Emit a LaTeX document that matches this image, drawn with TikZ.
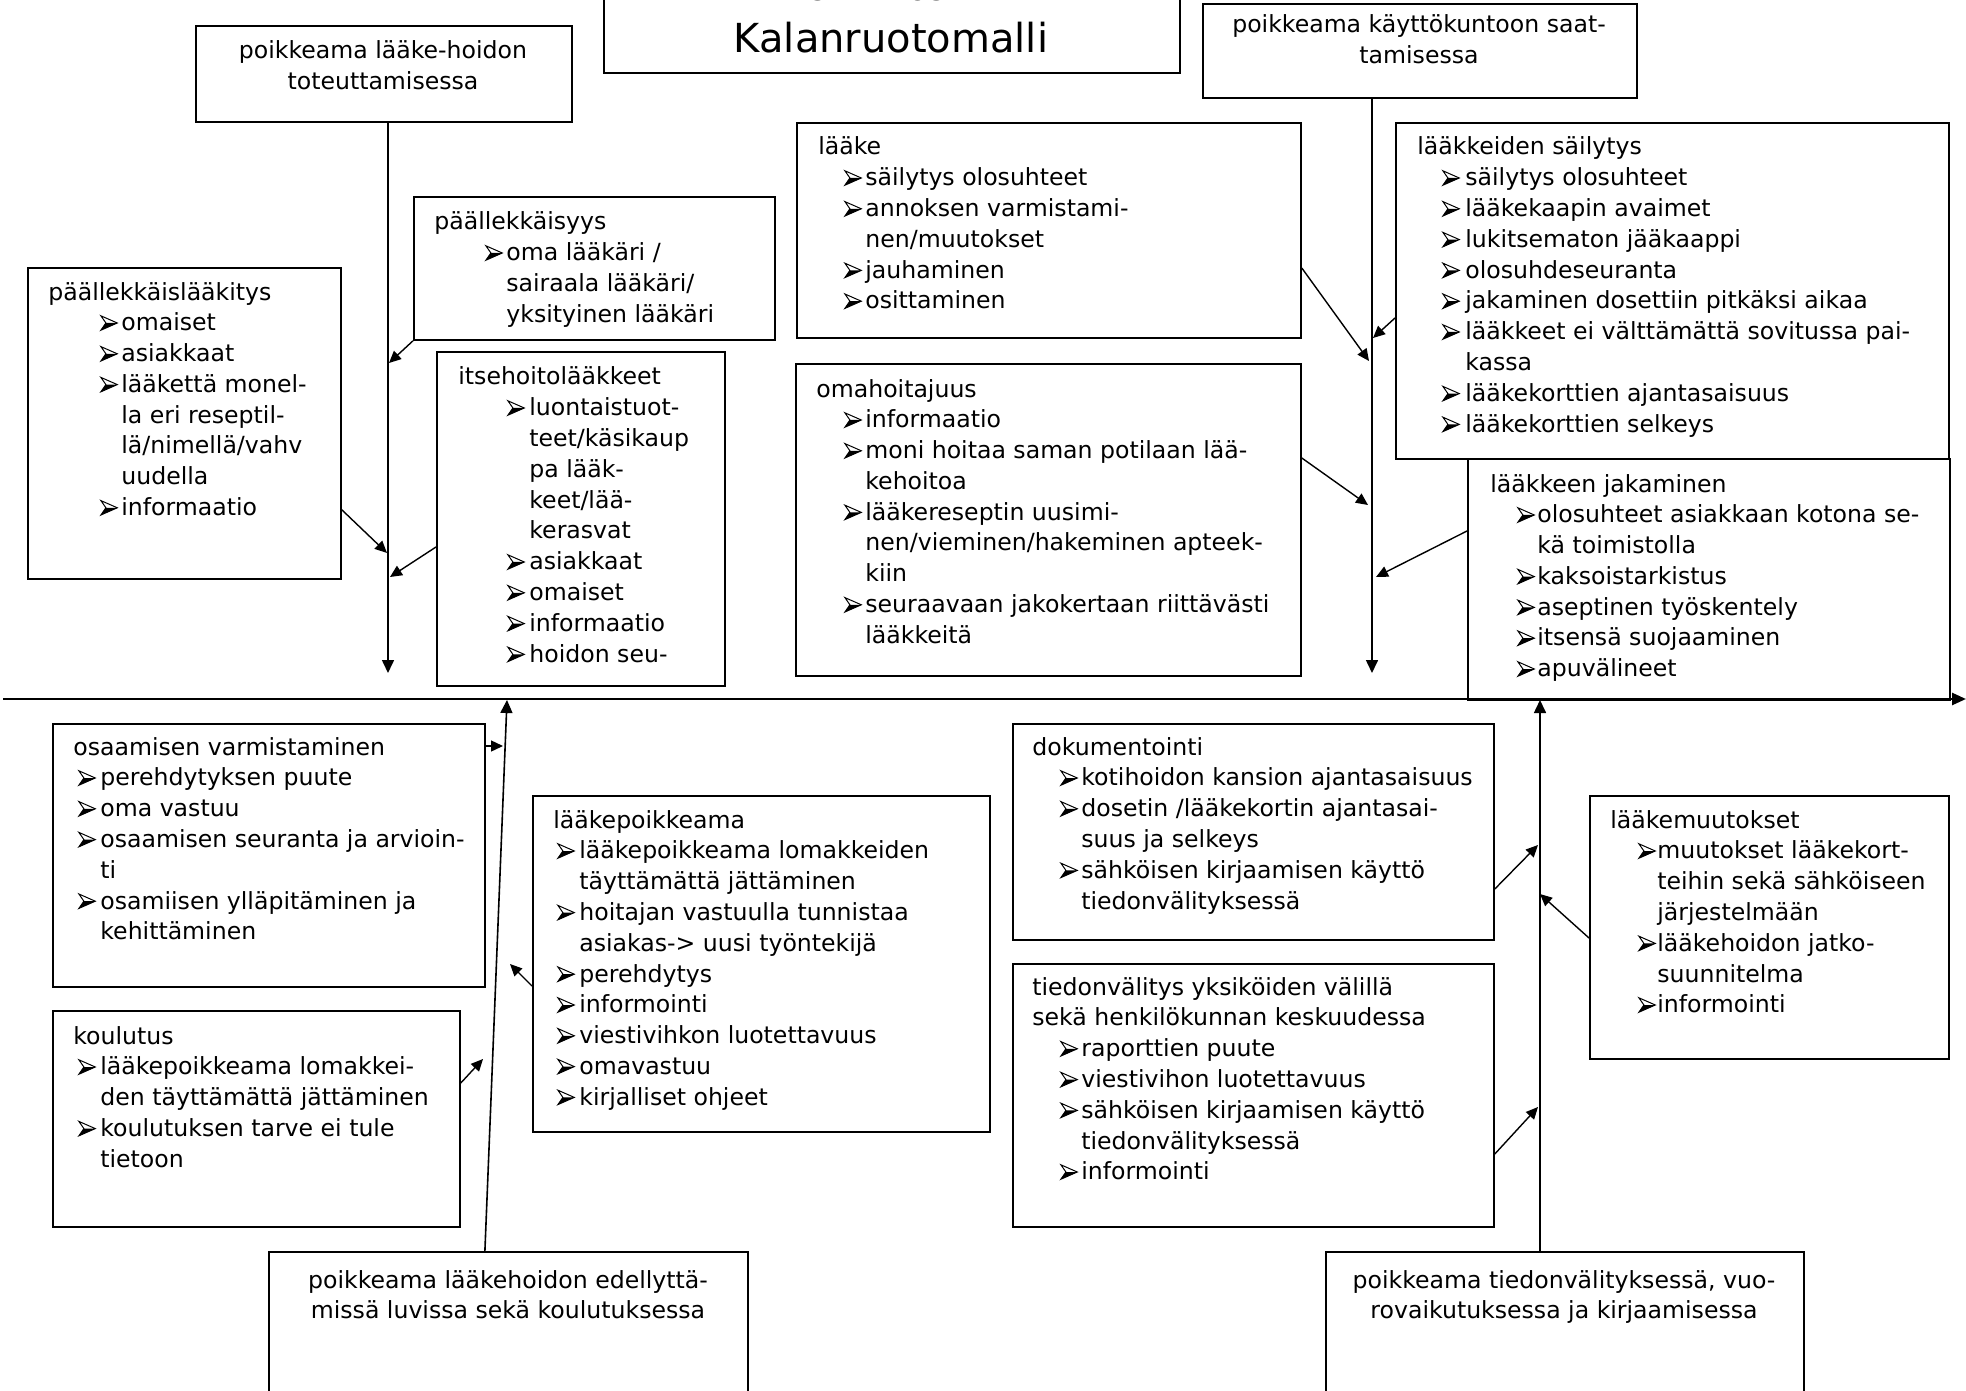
\documentclass[tikz,border=0pt]{standalone}
\usepackage{fontspec}
\setmainfont{DejaVu Sans}
\usetikzlibrary{arrows.meta,calc}
\newlength\bi \newlength\bt
\newcommand\bul{\tikz[baseline=0pt,x=1pt,y=1pt,line width=0.5pt,line join=miter]{%
  \fill (0,0.3) -- (8.2,3.9) -- (2.5,3.9) -- cycle;
  \draw (0,0.3) -- (8.2,3.9) -- (0,7.5) -- (2.5,3.9) -- cycle;}}
\newcommand\Lines[3]{\vtop{\setlength\bi{#1}\setlength\bt{#2}\baselineskip=15.4pt\lineskiplimit=-20pt\lineskip=0pt\relax #3}}
\newcommand\xtl[1]{\hbox{#1}}
\newcommand\xbl[1]{\hbox{\hspace*{\bi}\makebox[\bt][l]{\bul}#1}}
\newcommand\xcl[1]{\hbox{\hspace*{\bi}\hspace*{\bt}#1}}
\newcommand\Cen[1]{\vtop{\baselineskip=15.4pt\lineskiplimit=-20pt\lineskip=0pt\halign{\hfil##\hfil\cr #1\crcr}}}
\newcommand\bx[5]{\node[boxst, minimum width={(#4-(#2))/2}, minimum height={(#5-(#3))/2}] (#1) at (#2,#3) {};}
\tikzset{
 boxst/.style={draw, line width=0.9pt, inner sep=0pt, anchor=north west},
 txt/.style={inner sep=0pt, anchor=base west, font=\fontsize{11.8}{15.4}\selectfont},
 ctxt/.style={inner sep=0pt, anchor=base, font=\fontsize{11.8}{15.4}\selectfont},
 con/.style={line width=0.7pt, -{Triangle[length=6pt,width=5.5pt]}},
 bone/.style={line width=0.8pt, -{Triangle[length=6.5pt,width=6pt]}},
 spine/.style={line width=1.3pt, -{Triangle[length=7pt,width=6pt]}}
}
\begin{document}
\begin{tikzpicture}[x=0.5pt,y=-0.5pt]
\useasboundingbox (0,0) rectangle (1966,1391);
\clip (0,0) rectangle (1966,1391);
\fill[white] (0,0) rectangle (1966,1391);
% boxes
\bx{T}{603}{-20}{1179}{72}
\bx{A}{195}{25}{571}{121}
\bx{B}{1202}{3}{1636}{97}
\bx{P1}{27}{267}{340}{578}
\bx{P2}{413}{196}{774}{339}
\bx{P3}{436}{351}{724}{685}
\bx{L1}{796}{122}{1300}{337}
\bx{L2}{795}{363}{1300}{675}
\bx{S1}{1395}{122}{1948}{458}
\bx{S2}{1467}{458}{1949}{699}
\bx{O1}{52}{723}{484}{986}
\bx{O2}{52}{1010}{459}{1226}
\bx{O3}{532}{795}{989}{1131}
\bx{D1}{1012}{723}{1493}{939}
\bx{D2}{1012}{963}{1493}{1226}
\bx{D3}{1589}{795}{1948}{1058}
\bx{E1}{268}{1251}{747}{1420}
\bx{E2}{1325}{1251}{1803}{1420}
% title
\node[ctxt, font=\fontsize{14}{16}\selectfont] (Tt0) at (888,1) {RISKIPERUSTAT};
\node[ctxt, font=\fontsize{20}{24}\selectfont] (Tt) at (891,53) {Kalanruotomalli};
% texts
\node[ctxt] (At) at (383,59) {\Cen{poikkeama lääke-hoidon\cr toteuttamisessa}};
\node[ctxt] (Bt) at (1419,33) {\Cen{poikkeama käyttökuntoon saat-\cr tamisessa}};
\node[ctxt] (E1t) at (508,1288) {\Cen{poikkeama lääkehoidon edellyttä-\cr missä luvissa sekä koulutuksessa}};
\node[ctxt] (E2t) at (1564,1288) {\Cen{poikkeama tiedonvälityksessä, vuo-\cr rovaikutuksessa ja kirjaamisessa}};
\node[txt] (P1t) at (48,300) {\Lines{26pt}{10.5pt}{%
 \xtl{päällekkäislääkitys}
 \xbl{omaiset}
 \xbl{asiakkaat}
 \xbl{lääkettä monel-}
 \xcl{la eri reseptil-}
 \xcl{lä/nimellä/vahv}
 \xcl{uudella}
 \xbl{informaatio}}};
\node[txt] (P2t) at (434,230) {\Lines{25.5pt}{10.5pt}{%
 \xtl{päällekkäisyys}
 \xbl{oma lääkäri /}
 \xcl{sairaala lääkäri/}
 \xcl{yksityinen lääkäri}}};
\node[txt] (P3t) at (458,385) {\Lines{24.5pt}{11pt}{%
 \xtl{itsehoitolääkkeet}
 \xbl{luontaistuot-}
 \xcl{teet/käsikaup}
 \xcl{pa lääk-}
 \xcl{keet/lää-}
 \xcl{kerasvat}
 \xbl{asiakkaat}
 \xbl{omaiset}
 \xbl{informaatio}
 \xbl{hoidon seu-}}};
\node[txt] (L1t) at (818,155) {\Lines{13pt}{10.5pt}{%
 \xtl{lääke}
 \xbl{säilytys olosuhteet}
 \xbl{annoksen varmistami-}
 \xcl{nen/muutokset}
 \xbl{jauhaminen}
 \xbl{osittaminen}}};
\node[txt] (L2t) at (816,397) {\Lines{14pt}{10.5pt}{%
 \xtl{omahoitajuus}
 \xbl{informaatio}
 \xbl{moni hoitaa saman potilaan lää-}
 \xcl{kehoitoa}
 \xbl{lääkereseptin uusimi-}
 \xcl{nen/vieminen/hakeminen apteek-}
 \xcl{kiin}
 \xbl{seuraavaan jakokertaan riittävästi}
 \xcl{lääkkeitä}}};
\node[txt] (S1t) at (1417,155) {\Lines{12.5pt}{11.5pt}{%
 \xtl{lääkkeiden säilytys}
 \xbl{säilytys olosuhteet}
 \xbl{lääkekaapin avaimet}
 \xbl{lukitsematon jääkaappi}
 \xbl{olosuhdeseuranta}
 \xbl{jakaminen dosettiin pitkäksi aikaa}
 \xbl{lääkkeet ei välttämättä sovitussa pai-}
 \xcl{kassa}
 \xbl{lääkekorttien ajantasaisuus}
 \xbl{lääkekorttien selkeys}}};
\node[txt] (S2t) at (1490,492) {\Lines{13.5pt}{10pt}{%
 \xtl{lääkkeen jakaminen}
 \xbl{olosuhteet asiakkaan kotona se-}
 \xcl{kä toimistolla}
 \xbl{kaksoistarkistus}
 \xbl{aseptinen työskentely}
 \xbl{itsensä suojaaminen}
 \xbl{apuvälineet}}};
\node[txt] (O1t) at (73,755) {\Lines{2.5pt}{11pt}{%
 \xtl{osaamisen varmistaminen}
 \xbl{perehdytyksen puute}
 \xbl{oma vastuu}
 \xbl{osaamisen seuranta ja arvioin-}
 \xcl{ti}
 \xbl{osamiisen ylläpitäminen ja}
 \xcl{kehittäminen}}};
\node[txt] (O2t) at (73,1044) {\Lines{2.5pt}{11pt}{%
 \xtl{koulutus}
 \xbl{lääkepoikkeama lomakkei-}
 \xcl{den täyttämättä jättäminen}
 \xbl{koulutuksen tarve ei tule}
 \xcl{tietoon}}};
\node[txt] (O3t) at (553,828) {\Lines{2pt}{11pt}{%
 \xtl{lääkepoikkeama}
 \xbl{lääkepoikkeama lomakkeiden}
 \xcl{täyttämättä jättäminen}
 \xbl{hoitajan vastuulla tunnistaa}
 \xcl{asiakas-> uusi työntekijä}
 \xbl{perehdytys}
 \xbl{informointi}
 \xbl{viestivihkon luotettavuus}
 \xbl{omavastuu}
 \xbl{kirjalliset ohjeet}}};
\node[txt] (D1t) at (1032,755) {\Lines{14pt}{10.5pt}{%
 \xtl{dokumentointi}
 \xbl{kotihoidon kansion ajantasaisuus}
 \xbl{dosetin /lääkekortin ajantasai-}
 \xcl{suus ja selkeys}
 \xbl{sähköisen kirjaamisen käyttö}
 \xcl{tiedonvälityksessä}}};
\node[txt] (D2t) at (1032,995) {\Lines{14pt}{10.5pt}{%
 \xtl{tiedonvälitys yksiköiden välillä}
 \xtl{sekä henkilökunnan keskuudessa}
 \xbl{raporttien puute}
 \xbl{viestivihon luotettavuus}
 \xbl{sähköisen kirjaamisen käyttö}
 \xcl{tiedonvälityksessä}
 \xbl{informointi}}};
\node[txt] (D3t) at (1610,828) {\Lines{14pt}{9.5pt}{%
 \xtl{lääkemuutokset}
 \xbl{muutokset lääkekort-}
 \xcl{teihin sekä sähköiseen}
 \xcl{järjestelmään}
 \xbl{lääkehoidon jatko-}
 \xcl{suunnitelma}
 \xbl{informointi}}};
% spine and bones
\coordinate (s0) at (3,699);
\coordinate (s1) at (1966,699);
\draw[spine] (s0) -- (s1);
\coordinate (eA) at (388,673);
\draw[bone] (eA |- A.south) -- (eA);
\coordinate (eB) at (1372,673);
\draw[bone] (eB |- B.south) -- (eB);
\coordinate (eE1) at (507,700);
\draw[bone] ([xshift=-11.75pt]E1.north) -- (eE1);
\coordinate (eE2) at (1540,700);
\draw[bone] (eE2 |- E2.north) -- (eE2);
% small arrows
\coordinate (q1) at (387,553); \draw[con] ([yshift=35pt]P1.south east) -- (q1);
\coordinate (q2) at (389,363); \draw[con] (P2.south west) -- (q2);
\coordinate (q3) at (390,577); \draw[con] ([yshift=-98pt]P3.north west) -- (q3);
\coordinate (q4) at (1369,361); \draw[con] ([yshift=-73pt]L1.north east) -- (q4);
\coordinate (q5) at (1373,338); \draw[con] ([yshift=-98pt]S1.north west) -- (q5);
\coordinate (q6) at (1368,505); \draw[con] ([yshift=-47.5pt]L2.north east) -- (q6);
\coordinate (q7) at (1376,577); \draw[con] ([yshift=-36.5pt]S2.north west) -- (q7);
\coordinate (q8) at (503,746); \draw[con] ([yshift=-11.5pt]O1.north east) -- (q8);
\coordinate (q9) at (483,1059); \draw[con] ([yshift=-36.5pt]O2.north east) -- (q9);
\coordinate (q10) at (510,964); \draw[con] ([yshift=-95.5pt]O3.north west) -- (q10);
\coordinate (q11) at (1538,845); \draw[con] ([yshift=-83pt]D1.north east) -- (q11);
\coordinate (q12) at (1538,1107); \draw[con] ([yshift=-95.5pt]D2.north east) -- (q12);
\coordinate (q13) at (1540,894); \draw[con] ([yshift=-71.5pt]D3.north west) -- (q13);
\end{tikzpicture}
\end{document}
